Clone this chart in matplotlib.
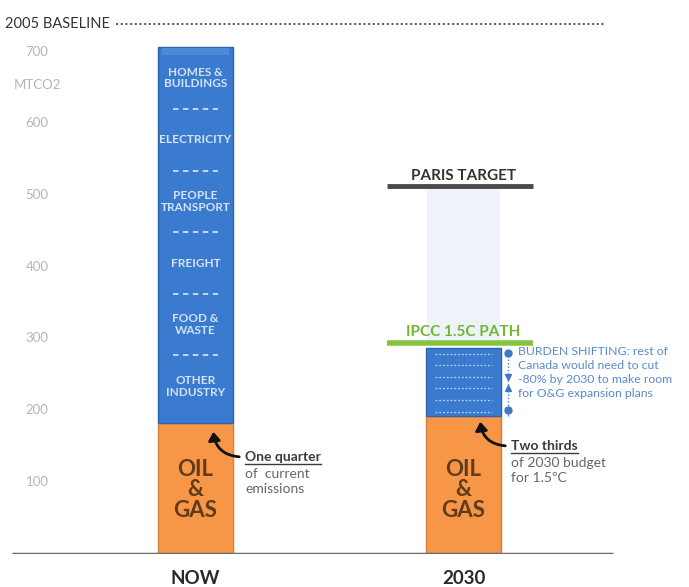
import matplotlib
matplotlib.use("Agg")
import matplotlib.pyplot as plt
from matplotlib.patches import FancyArrowPatch
import numpy as np

plt.rcParams["font.family"] = ["Lato", "DejaVu Sans"]

# ---- data (MtCO2) ----
categories = ["NOW", "2030"]
oil_gas = [182, 192]
other_sectors = [524, 95]
baseline_2005 = 739
paris_target = 512
ipcc_path = 294
yticks = [100, 200, 300, 400, 500, 600, 700]
sector_labels = ["HOMES &\nBUILDINGS", "ELECTRICITY", "PEOPLE\nTRANSPORT",
                 "FREIGHT", "FOOD &\nWASTE", "OTHER\nINDUSTRY"]

BLUE = "#3b7bcf"
BLUE_EDGE = "#2d64ad"
ORANGE = "#f79646"
ORANGE_EDGE = "#d9803a"
GREEN = "#86c440"
DARK = "#333333"

W, H = 689, 587
fig = plt.figure(figsize=(W / 100, H / 100), dpi=100)

# axes: value 0 sits at pixel row 553.75, 0.7175 px per MtCO2
zero_px = 553.75
scale = 0.7175
ymax = 760
ax_h = ymax * scale
ax = fig.add_axes([0, (H - zero_px) / H, 1, ax_h / H])
ax.set_ylim(0, ymax)
centre_now, spacing = 195.5, 268.0
ax.set_xlim(-centre_now / spacing, (W - centre_now) / spacing)
ax.axis("off")


def px_x(x):
    return (x - centre_now) / spacing


def px_y(y):
    return (zero_px - y) / scale


x = np.arange(len(categories))
bw = 75 / spacing
tops = [o + s for o, s in zip(oil_gas, other_sectors)]

# pale band between the 1.5C path and the Paris target
ax.bar(x[1], paris_target - ipcc_path, bw * 0.97, bottom=ipcc_path,
       color="#eef3fb", zorder=1)

# stacked bars
ax.bar(x, oil_gas, bw, color=ORANGE, edgecolor=ORANGE_EDGE, linewidth=1, zorder=3)
ax.bar(x, other_sectors, bw, bottom=oil_gas, color=BLUE, edgecolor=BLUE_EDGE,
       linewidth=1, zorder=3)
# bevel highlight on top of the NOW bar
ax.bar(x[0], 10, bw * 0.9, bottom=tops[0] - 11, color="#5490da", zorder=4,
       linewidth=0, alpha=0.8)

# baseline axis
ax.plot([px_x(12), px_x(613)], [0, 0], color="#6a6a6a", lw=2.5, zorder=5,
        solid_capstyle="butt")

# y tick labels
for t in yticks:
    ax.text(px_x(37), t, str(t), ha="center", va="center", fontsize=9.5,
            color="#b5b5b5")
ax.text(px_x(37), px_y(85), "MTCO2", ha="center", va="center", fontsize=9.5,
        color="#b5b5b5")

# 2005 baseline
ax.text(px_x(5), baseline_2005, "2005 BASELINE", ha="left", va="center",
        fontsize=10.5, color=DARK)
ax.plot([px_x(117), px_x(605)], [baseline_2005] * 2, color="#555555", lw=1.6,
        linestyle=(0, (0.1, 2.0)), dash_capstyle="round")

# sector labels inside the NOW bar
blue_lo, blue_hi = oil_gas[0], tops[0]
n = len(sector_labels)
label_pos = np.linspace(blue_hi - 0.082 * (blue_hi - blue_lo),
                        blue_lo + 0.098 * (blue_hi - blue_lo), n)
for i, lab in enumerate(sector_labels):
    ax.text(x[0], label_pos[i], lab, ha="center", va="center", fontsize=8.5,
            fontweight="bold", color="#d3e2f6", linespacing=1.05, zorder=6)
    if i < n - 1:
        yd = (label_pos[i] + label_pos[i + 1]) / 2
        ax.plot([x[0] - bw * 0.3, x[0] + bw * 0.3], [yd, yd], color="#cfe0f5",
                lw=1.3, linestyle=(0, (3, 2.5)), zorder=6)

# texture rows in the 2030 blue segment
rows = np.linspace(oil_gas[1] + 6, tops[1] - 8, 6)
for r in rows:
    ax.plot([x[1] - bw * 0.38, x[1] + bw * 0.38], [r, r], color="#dbe7f7",
            lw=0.9, linestyle=(0, (1.5, 1.5)), alpha=0.8, zorder=6)

# OIL & GAS labels
for xi in x:
    ax.text(xi, px_y(490), "OIL\n&\nGAS", ha="center", va="center",
            fontsize=16, fontweight="bold", color="#5e3c1c",
            linespacing=0.95, zorder=6)

# Paris target and IPCC path markers
ax.plot([px_x(387), px_x(533)], [paris_target] * 2, color="#4a4a4a", lw=3.5,
        zorder=5, solid_capstyle="butt")
ax.text(x[1], paris_target + 5, "PARIS TARGET", ha="center", va="bottom",
        fontsize=11, fontweight="bold", color=DARK)
ax.plot([px_x(387), px_x(533)], [ipcc_path] * 2, color=GREEN, lw=4, zorder=5,
        solid_capstyle="butt")
ax.text(x[1], ipcc_path + 5, "IPCC 1.5C PATH", ha="center", va="bottom",
        fontsize=11, fontweight="bold", color="#72b52f")

# burden-shifting bracket
bx = px_x(508)
ax.plot([bx, bx], [oil_gas[1], tops[1] - 5], color="#4a7fcb", lw=1,
        linestyle=(0, (1, 1.5)), zorder=5)
ax.plot([bx, bx], [oil_gas[1] + 8, tops[1] - 7], "o", color="#3f78c8", ms=5,
        zorder=6)
ax.plot(bx, px_y(377), marker="v", color="#3f78c8", ms=5, zorder=6)
ax.plot(bx, px_y(388), marker="^", color="#3f78c8", ms=5, zorder=6)
ax.text(px_x(518), px_y(346), "BURDEN SHIFTING: rest of\nCanada would need to cut\n"
        "-80% by 2030 to make room\nfor O&G expansion plans",
        ha="left", va="top", fontsize=8.8, color="#5a8ad2", linespacing=1.32)

# annotations with underlined headings
fig.canvas.draw()
renderer = fig.canvas.get_renderer()


def heading(xp, yp, title, rest):
    t = ax.text(px_x(xp), px_y(yp), title, ha="left", va="center",
                fontsize=10, fontweight="bold", color="#3a3a3a")
    bb = t.get_window_extent(renderer)
    inv = ax.transData.inverted()
    (x0, y0), (x1, _) = inv.transform([(bb.x0, bb.y0 - 1), (bb.x1, bb.y0)])
    ax.plot([x0, x1], [y0, y0], color="#3a3a3a", lw=1)
    ax.text(px_x(xp), px_y(yp + 11), rest, ha="left", va="top", fontsize=10,
            color="#666666", linespacing=1.3)


heading(245, 457, "One quarter", "of  current\nemissions")
heading(511, 446, "Two thirds", "of 2030 budget\nfor 1.5ºC")

for tail, tip in [((242, 457), (213, 429)), ((508, 446), (480, 419))]:
    arr = FancyArrowPatch((px_x(tail[0]), px_y(tail[1])),
                          (px_x(tip[0]), px_y(tip[1])),
                          connectionstyle="arc3,rad=-0.45",
                          arrowstyle="-|>,head_length=5,head_width=3.5",
                          color="#111111", lw=2, zorder=7)
    ax.add_patch(arr)

# category labels
for xi, c in zip(x, categories):
    ax.text(xi, px_y(578), c, ha="center", va="center", fontsize=13.5,
            fontweight="bold", color="#2a2a2a", clip_on=False)

fig.savefig("out.png", dpi=100)
